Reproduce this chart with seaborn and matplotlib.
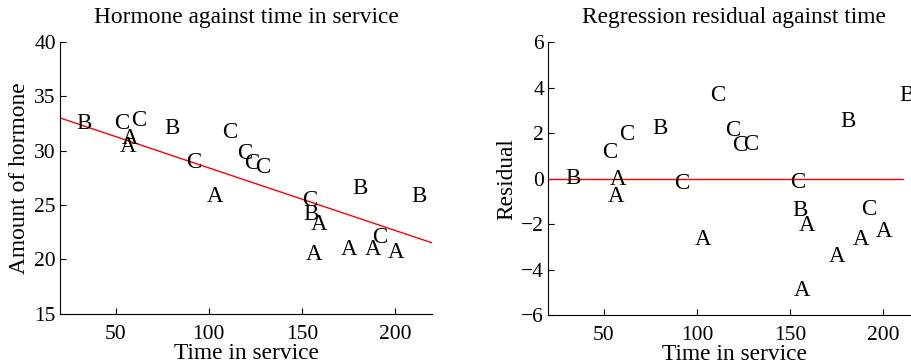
import numpy as np
import pandas as pd
import matplotlib
matplotlib.use("Agg")
import matplotlib.pyplot as plt
import seaborn as sns

# hormone data, three lots (A, B, C)
lot_a_hours = [99, 152, 293, 155, 196, 53, 184, 171, 52]
lot_a_amount = [25.8, 20.5, 14.3, 23.2, 20.6, 31.1, 20.9, 20.9, 30.4]
lot_b_hours = [376, 385, 402, 29, 76, 296, 151, 177, 209]
lot_b_amount = [16.3, 11.6, 11.8, 32.5, 32.0, 18.0, 24.1, 26.5, 25.8]
lot_c_hours = [119, 188, 115, 88, 58, 49, 150, 107, 125]
lot_c_amount = [28.8, 22.0, 29.7, 28.9, 32.8, 32.5, 25.4, 31.7, 28.5]

x_ticks = [50, 100, 150, 200]
left_y_ticks = [15, 20, 25, 30, 35, 40]
right_y_ticks = [-6, -4, -2, 0, 2, 4, 6]

df = pd.DataFrame({
    'hours': lot_a_hours + lot_b_hours + lot_c_hours,
    'amount': lot_a_amount + lot_b_amount + lot_c_amount,
    'lot': ['A'] * 9 + ['B'] * 9 + ['C'] * 9,
})

# least squares fit over all lots
slope, intercept = np.polyfit(df['hours'], df['amount'], 1)
df['residual'] = df['amount'] - (intercept + slope * df['hours'])

sns.set_style("ticks")
plt.rcParams['font.family'] = ['Liberation Serif', 'DejaVu Serif']
plt.rcParams['xtick.direction'] = 'in'
plt.rcParams['ytick.direction'] = 'in'
plt.rcParams['axes.unicode_minus'] = True
for k in ('text.color', 'axes.labelcolor', 'xtick.color', 'ytick.color',
          'axes.edgecolor'):
    plt.rcParams[k] = 'black'

fig = plt.figure(figsize=(9.12, 3.62), dpi=100)
ax1 = fig.add_axes([0.0658, 0.133, 0.408, 0.751])
ax2 = fig.add_axes([0.601, 0.130, 0.408, 0.753])

fs_tick = 15.5
fs_lab = 16.8
fs_letter = 16.5

# left: hormone against time
line = pd.DataFrame({'hours': [20, 220]})
line['fit'] = intercept + slope * line['hours']
sns.lineplot(data=line, x='hours', y='fit', ax=ax1, color='red', linewidth=1)
for _, r in df.iterrows():
    ax1.text(r['hours'], r['amount'], r['lot'], fontsize=fs_letter, ha='left',
             va='center', clip_on=True)
ax1.set_xlim(20, 220)
ax1.set_ylim(15, 40)
ax1.set_xticks(x_ticks)
ax1.set_yticks(left_y_ticks)
ax1.set_title('Hormone against time in service', fontsize=fs_lab, y=1.07, pad=0)
ax1.set_xlabel('Time in service', fontsize=fs_lab, labelpad=-1)
ax1.set_ylabel('Amount of hormone', fontsize=fs_lab, labelpad=3)

# right: residual against time
zero = pd.DataFrame({'hours': [20, 211], 'r': [0, 0]})
sns.lineplot(data=zero, x='hours', y='r', ax=ax2, color='red', linewidth=1)
for _, r in df.iterrows():
    ax2.text(r['hours'], r['residual'], r['lot'], fontsize=fs_letter, ha='left',
             va='center', clip_on=True)
ax2.set_xlim(20, 220)
ax2.set_ylim(-6, 6)
ax2.set_xticks(x_ticks)
ax2.set_yticks(right_y_ticks)
ax2.set_title('Regression residual against time', fontsize=fs_lab, y=1.07, pad=0)
ax2.set_xlabel('Time in service', fontsize=fs_lab, labelpad=-1)
ax2.set_ylabel('Residual', fontsize=fs_lab, labelpad=3)

for ax in (ax1, ax2):
    sns.despine(ax=ax)
    ax.tick_params(labelsize=fs_tick, length=4, width=0.8, pad=3)
    ax.tick_params(axis='x', pad=8)
    for s in ('left', 'bottom'):
        ax.spines[s].set_linewidth(0.8)

fig.savefig('out.png', dpi=100)
